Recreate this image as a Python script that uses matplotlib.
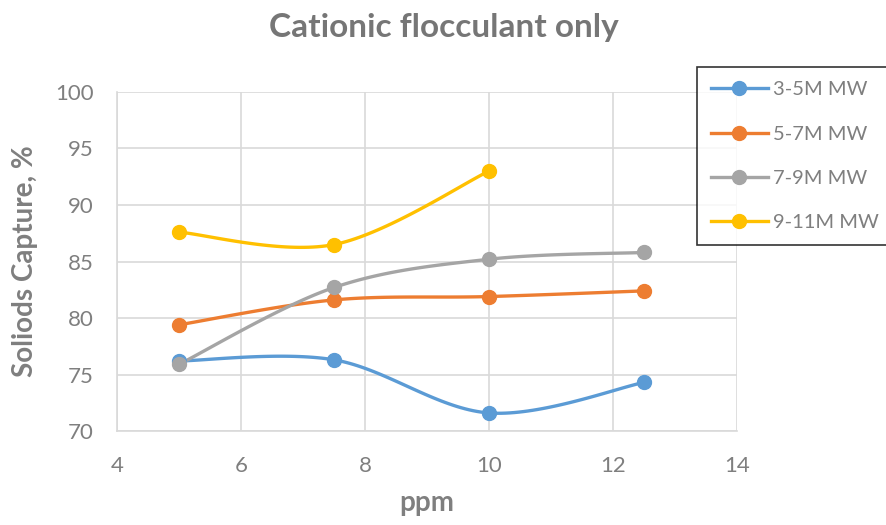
import matplotlib.pyplot as plt
import numpy as np

ppm = [5, 7.5, 10, 12.5]
mw_3_5 = [76.2, 76.3, 71.6, 74.3]
mw_5_7 = [79.4, 81.6, 81.9, 82.4]
mw_7_9 = [75.9, 82.7, 85.2, 85.8]
mw_9_11 = [87.6, 86.5, 93.0]

series = [
    ("3-5M MW", ppm, mw_3_5, "#5B9BD5"),
    ("5-7M MW", ppm, mw_5_7, "#ED7D31"),
    ("7-9M MW", ppm, mw_7_9, "#A5A5A5"),
    ("9-11M MW", ppm[:3], mw_9_11, "#FFC000"),
]

txt = "#7F7F7F"
plt.rcParams['font.family'] = ["Lato", "DejaVu Sans"]


def smooth(x, y, n=40):
    # courbe lissee facon Excel (bezier, controles a 1/6)
    p = np.column_stack([x, y]).astype(float)
    out = [p[0]]
    t = np.linspace(0, 1, n)[1:]
    for i in range(len(p) - 1):
        p0 = p[i - 1] if i > 0 else p[i]
        p3 = p[i + 2] if i + 2 < len(p) else p[i + 1]
        c1 = p[i] + (p[i + 1] - p0) / 6
        c2 = p[i + 1] - (p3 - p[i]) / 6
        for tt in t:
            b = ((1 - tt) ** 3 * p[i] + 3 * (1 - tt) ** 2 * tt * c1
                 + 3 * (1 - tt) * tt ** 2 * c2 + tt ** 3 * p[i + 1])
            out.append(b)
    out = np.array(out)
    return out[:, 0], out[:, 1]


fig = plt.figure(figsize=(8.87, 5.25), dpi=100)
ax = fig.add_axes([0.1319, 0.179, 0.699, 0.6458])

for label, x, y, c in series:
    sx, sy = smooth(x, y)
    ax.plot(sx, sy, color=c, lw=2.4, zorder=3)
    ax.plot(x, y, "o", color=c, ms=10, zorder=4)
    ax.plot([], [], "-o", color=c, lw=2.4, ms=10, label=label)

ax.set_xlim(4, 14)
ax.set_ylim(70, 100)
ax.set_xticks(np.arange(4, 15, 2))
ax.set_yticks(np.arange(70, 101, 5))
ax.grid(True, color="#D9D9D9", lw=1.2)
ax.set_axisbelow(True)
for s in ["top", "right"]:
    ax.spines[s].set_visible(False)
for s in ["left", "bottom"]:
    ax.spines[s].set_color("#D9D9D9")
    ax.spines[s].set_linewidth(1.2)
ax.tick_params(length=0, colors=txt, labelsize=16)
ax.tick_params(axis="x", pad=18)
ax.tick_params(axis="y", pad=17)

ax.set_xlabel("ppm", fontsize=20, fontweight="bold", color=txt, labelpad=10)
ax.set_ylabel("Soliods Capture, %", fontsize=20, fontweight="bold", color=txt, labelpad=12)
fig.text(0.500, 0.948, "Cationic flocculant only", ha="center", va="center",
         fontsize=24, fontweight="bold", color="#767676")

leg = fig.legend(loc="upper left", bbox_to_anchor=(0.786, 0.872), fontsize=14.5,
                 frameon=True, fancybox=False, labelspacing=1.35, handlelength=2.8,
                 handletextpad=0.25, borderpad=0.7, borderaxespad=0, labelcolor=txt)
leg.get_frame().set_edgecolor("black")
leg.get_frame().set_linewidth(1.2)

fig.savefig("out.png", dpi=100)
